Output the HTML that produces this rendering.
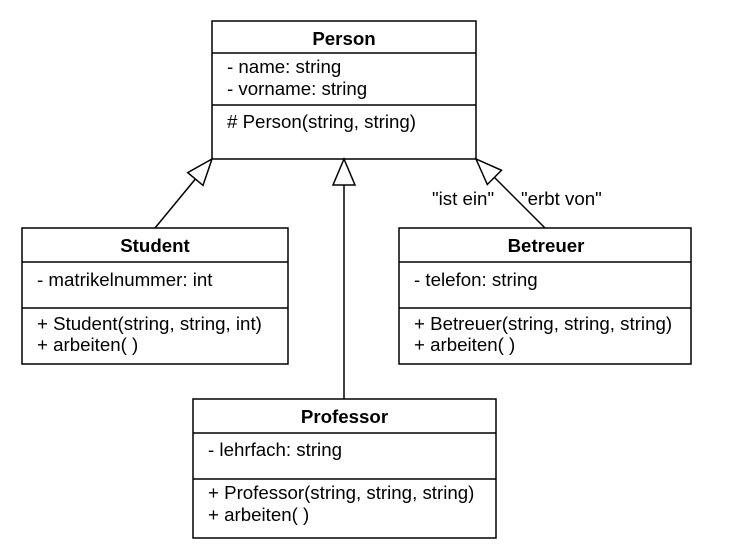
<!DOCTYPE html>
<html><head><style>
body{margin:0;background:#fff;}
svg text{font-family:"Liberation Sans",Arial,sans-serif;font-size:18.7px;fill:#000;}
.b{font-weight:bold;}
</style></head><body>
<svg width="742" height="547" viewBox="0 0 742 547" xmlns="http://www.w3.org/2000/svg">
<g fill="#fff" stroke="#000" stroke-width="1.5">
<rect x="212" y="21" width="264" height="138"/>
<line x1="212" y1="53" x2="476" y2="53"/>
<line x1="212" y1="105" x2="476" y2="105"/>
<rect x="22" y="228" width="266" height="136"/>
<line x1="22" y1="262" x2="288" y2="262"/>
<line x1="22" y1="308" x2="288" y2="308"/>
<rect x="399" y="228" width="292" height="136"/>
<line x1="399" y1="262" x2="691" y2="262"/>
<line x1="399" y1="308" x2="691" y2="308"/>
<rect x="193" y="399" width="303" height="139"/>
<line x1="193" y1="433" x2="496" y2="433"/>
<line x1="193" y1="479" x2="496" y2="479"/>
<line x1="155" y1="228" x2="195.4" y2="179"/>
<line x1="344" y1="399" x2="344" y2="185"/>
<line x1="545" y1="228" x2="494.4" y2="177.4"/>
<polygon points="212,159 203,185.4 187.7,172.6"/>
<polygon points="344,159 333,185 355,185"/>
<polygon points="476,159 487.3,184.5 501.5,170.3"/>
</g>
<text class="b" x="344" y="45" text-anchor="middle">Person</text>
<text x="227" y="73">- name: string</text>
<text x="227" y="95">- vorname: string</text>
<text x="227" y="128"># Person(string, string)</text>
<text class="b" x="155" y="252" text-anchor="middle">Student</text>
<text x="37" y="286">- matrikelnummer: int</text>
<text x="37" y="330">+ Student(string, string, int)</text>
<text x="37" y="351">+ arbeiten( )</text>
<text class="b" x="546" y="252" text-anchor="middle">Betreuer</text>
<text x="414" y="286">- telefon: string</text>
<text x="414" y="330">+ Betreuer(string, string, string)</text>
<text x="414" y="351">+ arbeiten( )</text>
<text class="b" x="344.5" y="423" text-anchor="middle">Professor</text>
<text x="208" y="456">- lehrfach: string</text>
<text x="208" y="499">+ Professor(string, string, string)</text>
<text x="208" y="521">+ arbeiten( )</text>
<text x="432" y="205">"ist ein"</text>
<text x="521" y="205">"erbt von"</text>
</svg>
</body></html>
